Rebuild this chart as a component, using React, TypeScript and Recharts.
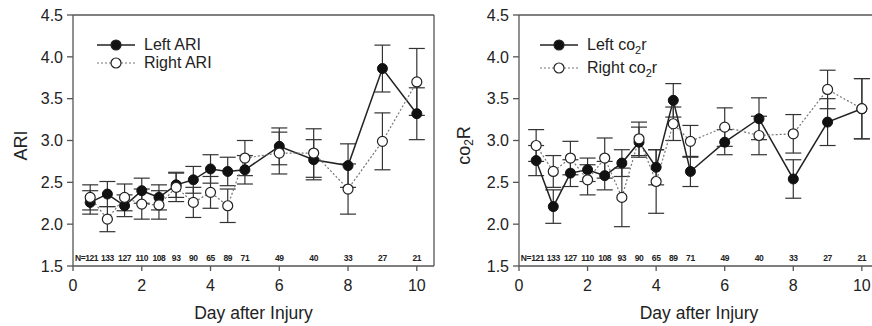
import React from 'react';
import { LineChart, Line, XAxis, YAxis, ErrorBar, ReferenceLine, LabelList, Legend, Label } from 'recharts';

const days = [0.5, 1, 1.5, 2, 2.5, 3, 3.5, 4, 4.5, 5, 6, 7, 8, 9, 10];
const nCounts = [121, 133, 127, 110, 108, 93, 90, 65, 89, 71, 49, 40, 33, 27, 21];
const xTicks = [0, 2, 4, 6, 8, 10];
const yTicks = [1.5, 2.0, 2.5, 3.0, 3.5, 4.0, 4.5];

const leftAri = [2.26, 2.36, 2.22, 2.40, 2.32, 2.47, 2.53, 2.66, 2.63, 2.65, 2.93, 2.77, 2.70, 3.86, 3.32];
const leftAriErr = [0.14, 0.15, 0.13, 0.15, 0.15, 0.15, 0.16, 0.17, 0.17, 0.17, 0.22, 0.24, 0.26, 0.28, 0.31];
const rightAri = [2.32, 2.06, 2.32, 2.24, 2.23, 2.44, 2.26, 2.38, 2.22, 2.79, 2.85, 2.85, 2.42, 2.99, 3.70];
const rightAriErr = [0.15, 0.15, 0.16, 0.18, 0.17, 0.17, 0.18, 0.19, 0.20, 0.21, 0.25, 0.29, 0.30, 0.34, 0.40];

const leftCo2r = [2.76, 2.21, 2.61, 2.65, 2.58, 2.73, 2.98, 2.68, 3.48, 2.63, 2.98, 3.26, 2.54, 3.22, 3.38];
const leftCo2rErr = [0.18, 0.20, 0.16, 0.14, 0.17, 0.16, 0.18, 0.21, 0.20, 0.18, 0.15, 0.25, 0.23, 0.28, 0.36];
const rightCo2r = [2.94, 2.63, 2.79, 2.53, 2.79, 2.32, 3.02, 2.51, 3.20, 2.99, 3.16, 3.06, 3.08, 3.61, 3.38];
const rightCo2rErr = [0.19, 0.19, 0.20, 0.18, 0.24, 0.35, 0.20, 0.38, 0.20, 0.19, 0.23, 0.23, 0.23, 0.23, 0.36];

const N_ROW = 1.6;
const FONT = '"Liberation Sans", Arial, sans-serif';

const buildRows = (left: number[], leftErr: number[], right: number[], rightErr: number[]) =>
  days.map((day, i) => ({
    day,
    nText: i === 0 ? `N=${nCounts[i]}` : `${nCounts[i]}`,
    left: left[i],
    leftErr: leftErr[i],
    right: right[i],
    rightErr: rightErr[i],
  }));

const ariRows = buildRows(leftAri, leftAriErr, rightAri, rightAriErr);
const co2rRows = buildRows(leftCo2r, leftCo2rErr, rightCo2r, rightCo2rErr);

const Sub2 = () => <span style={{ fontSize: 11, position: 'relative', top: 4 }}>2</span>;

// first label ("N=...") is right-aligned just past its point so it clears the next one
const NLabel = (props: any) => {
  const { x, y, value, index } = props;
  const first = index === 0;
  return (
    <text
      x={first ? x + 8 : x}
      y={y}
      textAnchor={first ? 'end' : 'middle'}
      dominantBaseline="central"
      fill="#222"
      fontSize={8.5}
      fontWeight="bold"
      letterSpacing={-0.4}
      fontFamily={FONT}
    >
      {value}
    </text>
  );
};

const LegendBox = ({ items, rowGap }: { items: React.ReactNode[]; rowGap: number }) => (
  <div style={{ fontFamily: FONT, fontSize: 16, color: '#222' }}>
    {items.map((label, i) => (
      <div key={i} style={{ display: 'flex', alignItems: 'center', height: rowGap }}>
        <svg width={42} height={14} style={{ marginRight: 5 }}>
          <line x1={0} y1={7} x2={38} y2={7} stroke={i === 0 ? '#222' : '#777'} strokeWidth={i === 0 ? 1.5 : 1.2} strokeDasharray={i === 0 ? undefined : '2 2'} />
          <circle cx={19} cy={7} r={5} fill={i === 0 ? '#111' : '#fff'} stroke="#222" strokeWidth={1.2} />
        </svg>
        <span>{label}</span>
      </div>
    ))}
  </div>
);

interface PanelProps {
  rows: typeof ariRows;
  yAxisWidth: number;
  rightMargin: number;
  yLabel: React.ReactNode;
  yLabelX: number;
  legendItems: React.ReactNode[];
  legendLeft: number;
  legendTop: number;
  rowGap: number;
}

const Panel: React.FC<PanelProps> = ({ rows, yAxisWidth, rightMargin, yLabel, yLabelX, legendItems, legendLeft, legendTop, rowGap }) => (
  <LineChart width={440} height={326} data={rows} margin={{ top: 15, right: rightMargin, left: 0, bottom: 0 }}>
    <XAxis
      dataKey="day"
      type="number"
      domain={[0, 10.5]}
      ticks={xTicks}
      allowDataOverflow
      height={60}
      tickSize={5}
      tickMargin={9}
      stroke="#555"
      strokeWidth={1.3}
      tick={{ fill: '#222', fontSize: 16, fontFamily: FONT }}
    >
      <Label value="Day after Injury" position="insideBottom" offset={7} style={{ fill: '#222', fontSize: 17.5, fontFamily: FONT }} />
    </XAxis>
    <YAxis
      type="number"
      domain={[1.5, 4.5]}
      ticks={yTicks}
      width={yAxisWidth}
      tickSize={6}
      tickMargin={4}
      stroke="#555"
      strokeWidth={1.3}
      tickFormatter={(v: number) => v.toFixed(1)}
      tick={{ fill: '#222', fontSize: 16, fontFamily: FONT }}
    >
      <Label
        content={(props: any) => {
          const vb = props.viewBox || { x: 0, y: 15, width: yAxisWidth, height: 251 };
          const cx = vb.x + yLabelX;
          const cy = vb.y + vb.height / 2 + 5;
          return (
            <text x={cx} y={cy} transform={`rotate(-90 ${cx} ${cy})`} textAnchor="middle" dominantBaseline="central" fill="#222" fontSize={18} fontFamily={FONT}>
              {yLabel}
            </text>
          );
        }}
      />
    </YAxis>
    <ReferenceLine y={4.5} stroke="#555" strokeWidth={1.3} ifOverflow="extendDomain" />
    <ReferenceLine x={10.5} stroke="#555" strokeWidth={1.3} ifOverflow="extendDomain" />
    <Legend
      layout="vertical"
      align="center"
      verticalAlign="middle"
      wrapperStyle={{ left: legendLeft, top: legendTop, width: 'auto' }}
      content={() => <LegendBox items={legendItems} rowGap={rowGap} />}
    />
    <Line
      dataKey={() => N_ROW}
      stroke="none"
      dot={false}
      activeDot={false}
      legendType="none"
      isAnimationActive={false}
    >
      <LabelList dataKey="nText" content={NLabel} />
    </Line>
    <Line
      dataKey="left"
      stroke="#222"
      strokeWidth={1.5}
      dot={{ r: 5, fill: '#111', stroke: '#111', strokeWidth: 1 }}
      activeDot={false}
      isAnimationActive={false}
    >
      <ErrorBar dataKey="leftErr" direction="y" width={8} stroke="#333" strokeWidth={1.2} />
    </Line>
    <Line
      dataKey="right"
      stroke="#777"
      strokeWidth={1.2}
      strokeDasharray="2 2"
      dot={{ r: 5, fill: '#fff', stroke: '#222', strokeWidth: 1.2, strokeDasharray: '' }}
      activeDot={false}
      isAnimationActive={false}
    >
      <ErrorBar dataKey="rightErr" direction="y" width={8} stroke="#333" strokeWidth={1.2} />
    </Line>
  </LineChart>
);

export default function App() {
  return (
    <div style={{ position: 'absolute', left: 0, top: 0, width: 872, height: 326, overflow: 'hidden', background: '#fff' }}>
      <div style={{ position: 'absolute', left: 0, top: 0 }}>
        <Panel
          rows={ariRows}
          yAxisWidth={73}
          rightMargin={6}
          yLabel="ARI"
          yLabelX={21}
          legendItems={['Left ARI', 'Right ARI']}
          legendLeft={97}
          legendTop={36}
          rowGap={18}
        />
      </div>
      <div style={{ position: 'absolute', left: 440, top: 0 }}>
        <Panel
          rows={co2rRows}
          yAxisWidth={79}
          rightMargin={1}
          yLabel={
            <>
              co<tspan fontSize={12} dy={5}>2</tspan>
              <tspan dy={-5}>R</tspan>
            </>
          }
          yLabelX={24}
          legendItems={[
            <>Left co<Sub2 />r</>,
            <>Right co<Sub2 />r</>,
          ]}
          legendLeft={100}
          legendTop={33}
          rowGap={23}
        />
      </div>
    </div>
  );
}
